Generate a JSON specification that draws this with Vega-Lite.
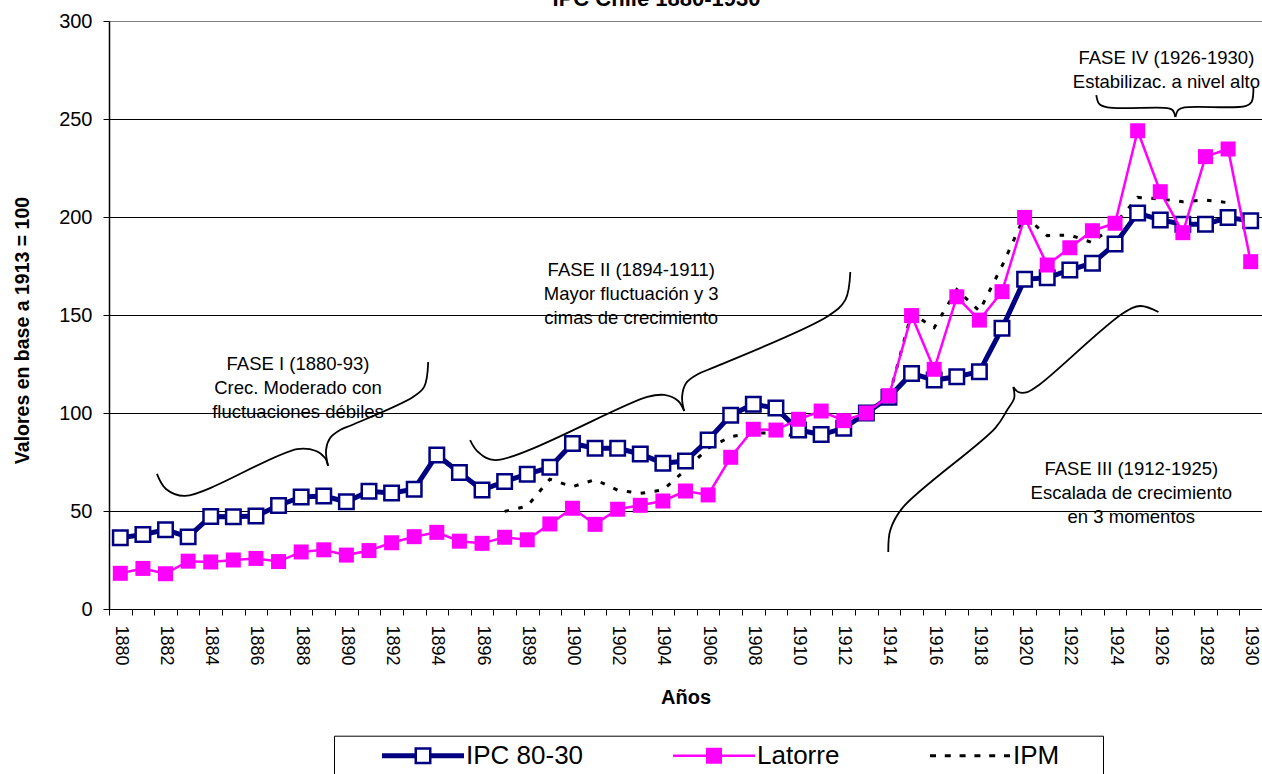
{
  "$schema": "https://vega.github.io/schema/vega-lite/v6.json",
  "autosize": {"type": "none"},
  "padding": {"left": 109, "top": 21, "right": 0, "bottom": 165},
  "width": 1153,
  "height": 588,
  "background": "white",
  "title": {
    "text": "IPC Chile 1880-1930",
    "fontSize": 22,
    "fontWeight": "bold",
    "font": "Liberation Sans",
    "color": "#000000",
    "anchor": "middle",
    "frame": "group",
    "baseline": "alphabetic",
    "offset": 4.5,
    "dx": -29,
    "dy": 21.5
  },
  "config": {"font": "Liberation Sans", "view": {"stroke": null}},
  "datasets": {
    "series": [
      {"anio": 1880, "serie": "IPC 80-30", "valor": 36.3},
      {"anio": 1881, "serie": "IPC 80-30", "valor": 38.0},
      {"anio": 1882, "serie": "IPC 80-30", "valor": 40.4},
      {"anio": 1883, "serie": "IPC 80-30", "valor": 36.8},
      {"anio": 1884, "serie": "IPC 80-30", "valor": 47.2},
      {"anio": 1885, "serie": "IPC 80-30", "valor": 47.1},
      {"anio": 1886, "serie": "IPC 80-30", "valor": 47.4},
      {"anio": 1887, "serie": "IPC 80-30", "valor": 52.8},
      {"anio": 1888, "serie": "IPC 80-30", "valor": 57.2},
      {"anio": 1889, "serie": "IPC 80-30", "valor": 57.6},
      {"anio": 1890, "serie": "IPC 80-30", "valor": 54.7},
      {"anio": 1891, "serie": "IPC 80-30", "valor": 60.1},
      {"anio": 1892, "serie": "IPC 80-30", "valor": 59.2},
      {"anio": 1893, "serie": "IPC 80-30", "valor": 61.1},
      {"anio": 1894, "serie": "IPC 80-30", "valor": 78.6},
      {"anio": 1895, "serie": "IPC 80-30", "valor": 69.6},
      {"anio": 1896, "serie": "IPC 80-30", "valor": 60.7},
      {"anio": 1897, "serie": "IPC 80-30", "valor": 65.0},
      {"anio": 1898, "serie": "IPC 80-30", "valor": 68.8},
      {"anio": 1899, "serie": "IPC 80-30", "valor": 72.3},
      {"anio": 1900, "serie": "IPC 80-30", "valor": 84.4},
      {"anio": 1901, "serie": "IPC 80-30", "valor": 82.0},
      {"anio": 1902, "serie": "IPC 80-30", "valor": 82.0},
      {"anio": 1903, "serie": "IPC 80-30", "valor": 79.1},
      {"anio": 1904, "serie": "IPC 80-30", "valor": 74.4},
      {"anio": 1905, "serie": "IPC 80-30", "valor": 75.5},
      {"anio": 1906, "serie": "IPC 80-30", "valor": 86.2},
      {"anio": 1907, "serie": "IPC 80-30", "valor": 98.8},
      {"anio": 1908, "serie": "IPC 80-30", "valor": 104.5},
      {"anio": 1909, "serie": "IPC 80-30", "valor": 102.5},
      {"anio": 1910, "serie": "IPC 80-30", "valor": 91.3},
      {"anio": 1911, "serie": "IPC 80-30", "valor": 89.0},
      {"anio": 1912, "serie": "IPC 80-30", "valor": 92.2},
      {"anio": 1913, "serie": "IPC 80-30", "valor": 100.0},
      {"anio": 1914, "serie": "IPC 80-30", "valor": 108.0},
      {"anio": 1915, "serie": "IPC 80-30", "valor": 120.2},
      {"anio": 1916, "serie": "IPC 80-30", "valor": 116.8},
      {"anio": 1917, "serie": "IPC 80-30", "valor": 118.5},
      {"anio": 1918, "serie": "IPC 80-30", "valor": 121.1},
      {"anio": 1919, "serie": "IPC 80-30", "valor": 143.2},
      {"anio": 1920, "serie": "IPC 80-30", "valor": 168.2},
      {"anio": 1921, "serie": "IPC 80-30", "valor": 169.0},
      {"anio": 1922, "serie": "IPC 80-30", "valor": 173.0},
      {"anio": 1923, "serie": "IPC 80-30", "valor": 176.4},
      {"anio": 1924, "serie": "IPC 80-30", "valor": 186.2},
      {"anio": 1925, "serie": "IPC 80-30", "valor": 202.0},
      {"anio": 1926, "serie": "IPC 80-30", "valor": 198.5},
      {"anio": 1927, "serie": "IPC 80-30", "valor": 196.3},
      {"anio": 1928, "serie": "IPC 80-30", "valor": 196.3},
      {"anio": 1929, "serie": "IPC 80-30", "valor": 199.7},
      {"anio": 1930, "serie": "IPC 80-30", "valor": 198.1},
      {"anio": 1880, "serie": "Latorre", "valor": 18.2},
      {"anio": 1881, "serie": "Latorre", "valor": 20.7},
      {"anio": 1882, "serie": "Latorre", "valor": 18.0},
      {"anio": 1883, "serie": "Latorre", "valor": 24.4},
      {"anio": 1884, "serie": "Latorre", "valor": 24.0},
      {"anio": 1885, "serie": "Latorre", "valor": 25.0},
      {"anio": 1886, "serie": "Latorre", "valor": 25.8},
      {"anio": 1887, "serie": "Latorre", "valor": 24.2},
      {"anio": 1888, "serie": "Latorre", "valor": 29.1},
      {"anio": 1889, "serie": "Latorre", "valor": 30.2},
      {"anio": 1890, "serie": "Latorre", "valor": 27.5},
      {"anio": 1891, "serie": "Latorre", "valor": 29.8},
      {"anio": 1892, "serie": "Latorre", "valor": 33.8},
      {"anio": 1893, "serie": "Latorre", "valor": 36.9},
      {"anio": 1894, "serie": "Latorre", "valor": 39.1},
      {"anio": 1895, "serie": "Latorre", "valor": 34.6},
      {"anio": 1896, "serie": "Latorre", "valor": 33.5},
      {"anio": 1897, "serie": "Latorre", "valor": 36.6},
      {"anio": 1898, "serie": "Latorre", "valor": 35.3},
      {"anio": 1899, "serie": "Latorre", "valor": 43.4},
      {"anio": 1900, "serie": "Latorre", "valor": 51.4},
      {"anio": 1901, "serie": "Latorre", "valor": 43.2},
      {"anio": 1902, "serie": "Latorre", "valor": 50.9},
      {"anio": 1903, "serie": "Latorre", "valor": 52.9},
      {"anio": 1904, "serie": "Latorre", "valor": 55.1},
      {"anio": 1905, "serie": "Latorre", "valor": 60.2},
      {"anio": 1906, "serie": "Latorre", "valor": 58.2},
      {"anio": 1907, "serie": "Latorre", "valor": 77.4},
      {"anio": 1908, "serie": "Latorre", "valor": 91.7},
      {"anio": 1909, "serie": "Latorre", "valor": 91.3},
      {"anio": 1910, "serie": "Latorre", "valor": 96.8},
      {"anio": 1911, "serie": "Latorre", "valor": 101.0},
      {"anio": 1912, "serie": "Latorre", "valor": 96.1},
      {"anio": 1913, "serie": "Latorre", "valor": 100.0},
      {"anio": 1914, "serie": "Latorre", "valor": 108.8},
      {"anio": 1915, "serie": "Latorre", "valor": 149.7},
      {"anio": 1916, "serie": "Latorre", "valor": 122.3},
      {"anio": 1917, "serie": "Latorre", "valor": 159.3},
      {"anio": 1918, "serie": "Latorre", "valor": 147.4},
      {"anio": 1919, "serie": "Latorre", "valor": 161.9},
      {"anio": 1920, "serie": "Latorre", "valor": 199.8},
      {"anio": 1921, "serie": "Latorre", "valor": 175.5},
      {"anio": 1922, "serie": "Latorre", "valor": 184.3},
      {"anio": 1923, "serie": "Latorre", "valor": 193.0},
      {"anio": 1924, "serie": "Latorre", "valor": 196.8},
      {"anio": 1925, "serie": "Latorre", "valor": 244.0},
      {"anio": 1926, "serie": "Latorre", "valor": 212.9},
      {"anio": 1927, "serie": "Latorre", "valor": 192.0},
      {"anio": 1928, "serie": "Latorre", "valor": 230.8},
      {"anio": 1929, "serie": "Latorre", "valor": 234.7},
      {"anio": 1930, "serie": "Latorre", "valor": 177.2},
      {"anio": 1897, "serie": "IPM", "valor": 49.8},
      {"anio": 1898, "serie": "IPM", "valor": 52.5},
      {"anio": 1899, "serie": "IPM", "valor": 66.2},
      {"anio": 1900, "serie": "IPM", "valor": 62.4},
      {"anio": 1901, "serie": "IPM", "valor": 66.0},
      {"anio": 1902, "serie": "IPM", "valor": 60.6},
      {"anio": 1903, "serie": "IPM", "valor": 59.0},
      {"anio": 1904, "serie": "IPM", "valor": 60.7},
      {"anio": 1905, "serie": "IPM", "valor": 71.0},
      {"anio": 1906, "serie": "IPM", "valor": 82.0},
      {"anio": 1907, "serie": "IPM", "valor": 88.0},
      {"anio": 1908, "serie": "IPM", "valor": 89.6},
      {"anio": 1909, "serie": "IPM", "valor": 90.0},
      {"anio": 1910, "serie": "IPM", "valor": 87.9},
      {"anio": 1911, "serie": "IPM", "valor": 88.5},
      {"anio": 1912, "serie": "IPM", "valor": 93.0},
      {"anio": 1913, "serie": "IPM", "valor": 100.0},
      {"anio": 1914, "serie": "IPM", "valor": 108.3},
      {"anio": 1915, "serie": "IPM", "valor": 151.0},
      {"anio": 1916, "serie": "IPM", "valor": 143.5},
      {"anio": 1917, "serie": "IPM", "valor": 163.0},
      {"anio": 1918, "serie": "IPM", "valor": 152.0},
      {"anio": 1919, "serie": "IPM", "valor": 175.0},
      {"anio": 1920, "serie": "IPM", "valor": 200.5},
      {"anio": 1921, "serie": "IPM", "valor": 190.5},
      {"anio": 1922, "serie": "IPM", "valor": 190.8},
      {"anio": 1923, "serie": "IPM", "valor": 186.9},
      {"anio": 1924, "serie": "IPM", "valor": 196.5},
      {"anio": 1925, "serie": "IPM", "valor": 210.0},
      {"anio": 1926, "serie": "IPM", "valor": 209.2},
      {"anio": 1927, "serie": "IPM", "valor": 207.8},
      {"anio": 1928, "serie": "IPM", "valor": 208.7},
      {"anio": 1929, "serie": "IPM", "valor": 207.3}
    ],
    "llaves": [
      {"llave": "Ia", "i": 1, "anio": 1881.62, "valor": 68.9},
      {"llave": "Ia", "i": 2, "anio": 1882.02, "valor": 61.2},
      {"llave": "Ia", "i": 3, "anio": 1882.86, "valor": 57.7},
      {"llave": "Ia", "i": 4, "anio": 1887.82, "valor": 81.6},
      {"llave": "Ia", "i": 5, "anio": 1888.66, "valor": 80.6},
      {"llave": "Ia", "i": 6, "anio": 1889.06, "valor": 77.0},
      {"llave": "Ia", "i": 7, "anio": 1889.19, "valor": 73.0},
      {"llave": "Ib", "i": 1, "anio": 1889.19, "valor": 73.0},
      {"llave": "Ib", "i": 2, "anio": 1889.10, "valor": 81.1},
      {"llave": "Ib", "i": 3, "anio": 1889.28, "valor": 87.2},
      {"llave": "Ib", "i": 4, "anio": 1889.72, "valor": 91.3},
      {"llave": "Ib", "i": 5, "anio": 1890.25, "valor": 93.9},
      {"llave": "Ib", "i": 6, "anio": 1892.95, "valor": 108.2},
      {"llave": "Ib", "i": 7, "anio": 1893.44, "valor": 113.3},
      {"llave": "Ib", "i": 8, "anio": 1893.62, "valor": 126.0},
      {"llave": "IIa", "i": 1, "anio": 1895.47, "valor": 86.2},
      {"llave": "IIa", "i": 2, "anio": 1895.83, "valor": 80.1},
      {"llave": "IIa", "i": 3, "anio": 1896.58, "valor": 76.0},
      {"llave": "IIa", "i": 4, "anio": 1903.31, "valor": 108.2},
      {"llave": "IIa", "i": 5, "anio": 1904.06, "valor": 109.2},
      {"llave": "IIa", "i": 6, "anio": 1904.68, "valor": 106.1},
      {"llave": "IIa", "i": 7, "anio": 1904.94, "valor": 101.0},
      {"llave": "IIb", "i": 1, "anio": 1904.94, "valor": 101.0},
      {"llave": "IIb", "i": 2, "anio": 1904.85, "valor": 108.2},
      {"llave": "IIb", "i": 3, "anio": 1905.03, "valor": 115.3},
      {"llave": "IIb", "i": 4, "anio": 1905.56, "valor": 119.9},
      {"llave": "IIb", "i": 5, "anio": 1906.31, "valor": 123.5},
      {"llave": "IIb", "i": 6, "anio": 1911.31, "valor": 149.5},
      {"llave": "IIb", "i": 7, "anio": 1912.07, "valor": 157.7},
      {"llave": "IIb", "i": 8, "anio": 1912.29, "valor": 171.9},
      {"llave": "IIIa", "i": 1, "anio": 1913.97, "valor": 29.1},
      {"llave": "IIIa", "i": 2, "anio": 1914.06, "valor": 40.3},
      {"llave": "IIIa", "i": 3, "anio": 1914.59, "valor": 51.5},
      {"llave": "IIIa", "i": 4, "anio": 1918.70, "valor": 92.3},
      {"llave": "IIIa", "i": 5, "anio": 1919.23, "valor": 101.5},
      {"llave": "IIIa", "i": 6, "anio": 1919.54, "valor": 107.7},
      {"llave": "IIIa", "i": 7, "anio": 1919.50, "valor": 113.3},
      {"llave": "IIIb", "i": 1, "anio": 1919.50, "valor": 113.3},
      {"llave": "IIIb", "i": 2, "anio": 1919.72, "valor": 110.7},
      {"llave": "IIIb", "i": 3, "anio": 1920.12, "valor": 110.7},
      {"llave": "IIIb", "i": 4, "anio": 1920.69, "valor": 114.8},
      {"llave": "IIIb", "i": 5, "anio": 1924.37, "valor": 151.0},
      {"llave": "IIIb", "i": 6, "anio": 1925.12, "valor": 154.6},
      {"llave": "IIIb", "i": 7, "anio": 1925.92, "valor": 151.5},
      {"llave": "IVa", "i": 1, "anio": 1923.17, "valor": 262.2},
      {"llave": "IVa", "i": 2, "anio": 1923.30, "valor": 257.7},
      {"llave": "IVa", "i": 3, "anio": 1923.66, "valor": 255.9},
      {"llave": "IVa", "i": 4, "anio": 1926.27, "valor": 255.6},
      {"llave": "IVa", "i": 5, "anio": 1926.54, "valor": 254.6},
      {"llave": "IVa", "i": 6, "anio": 1926.67, "valor": 251.0},
      {"llave": "IVb", "i": 1, "anio": 1926.67, "valor": 251.0},
      {"llave": "IVb", "i": 2, "anio": 1926.80, "valor": 254.6},
      {"llave": "IVb", "i": 3, "anio": 1927.07, "valor": 255.9},
      {"llave": "IVb", "i": 4, "anio": 1929.77, "valor": 256.6},
      {"llave": "IVb", "i": 5, "anio": 1930.04, "valor": 258.7},
      {"llave": "IVb", "i": 6, "anio": 1930.12, "valor": 266.3}
    ],
    "fases": [
      {"anio": 1887.86, "valor": 125.0, "texto": "FASE I (1880-93)\nCrec. Moderado con\nfluctuaciones débiles"},
      {"anio": 1902.6, "valor": 173.0, "texto": "FASE II (1894-1911)\nMayor fluctuación y 3\ncimas de crecimiento"},
      {"anio": 1924.72, "valor": 71.4, "texto": "FASE III (1912-1925)\nEscalada de crecimiento\nen 3 momentos"},
      {"anio": 1926.27, "valor": 281.1, "texto": "FASE IV (1926-1930)\nEstabilizac. a nivel alto"}
    ]
  },
  "resolve": {"scale": {"x": "independent"}, "axis": {"x": "independent", "y": "independent"}},
  "layer": [
    {
      "data": {"name": "series"},
      "encoding": {
        "x": {
          "field": "anio",
          "type": "ordinal",
          "scale": {"type": "band", "paddingInner": 0, "paddingOuter": 0},
          "axis": {
            "title": "Años",
            "titleFontSize": 20,
            "titleFontWeight": "bold",
            "titleColor": "#000000",
            "titleX": 576.5,
            "titleY": 88,
            "titleAlign": "center",
            "titleBaseline": "middle",
            "labelAngle": 90,
            "labelFontSize": 18,
            "labelColor": "#000000",
            "labelPadding": 10,
            "labelOverlap": false,
            "labelExpr": "datum.value % 2 === 0 ? datum.label : ''",
            "tickBand": "extent",
            "tickSize": 6,
            "tickColor": "#000000",
            "domainColor": "#000000",
            "grid": false
          }
        },
        "y": {
          "field": "valor",
          "type": "quantitative",
          "scale": {"domain": [0, 300], "nice": false, "zero": true},
          "axis": {
            "title": "Valores en base a 1913 = 100",
            "titleFontSize": 19.5,
            "titleFontWeight": "bold",
            "titleColor": "#000000",
            "titleX": -86.5,
            "titleY": 309,
            "titleAlign": "center",
            "titleBaseline": "middle",
            "values": [0, 50, 100, 150, 200, 250, 300],
            "labelFontSize": 20,
            "labelColor": "#000000",
            "labelPadding": 11,
            "tickSize": 6,
            "tickColor": "#000000",
            "domainColor": "#000000",
            "domainWidth": 1.5,
            "grid": true,
            "gridWidth": 1,
            "gridColor": {"condition": {"test": "datum.value === 300", "value": "#808080"}, "value": "#000000"}
          }
        }
      },
      "layer": [
        {
          "transform": [{"filter": "datum.serie === 'IPM'"}],
          "mark": {"type": "line", "strokeWidth": 3, "strokeDash": [4.5, 9.5]},
          "encoding": {
            "color": {
              "field": "serie",
              "type": "nominal",
              "scale": {"domain": ["IPC 80-30", "Latorre", "IPM"], "range": ["#000080", "#ff00ff", "#000000"]},
              "legend": {
                "title": null,
                "orient": "none",
                "legendX": 225,
                "legendY": 714.7,
                "direction": "horizontal",
                "padding": 7,
                "strokeColor": "#000000",
                "fillColor": "#ffffff",
                "symbolSize": 324,
                "symbolOffset": 69,
                "labelOffset": 30,
                "columnPadding": 48,
                "labelFontSize": 26,
                "labelColor": "#000000",
                "labelLimit": 300,
                "symbolStrokeWidth": 0,
                "encode": {
                  "symbols": {
                    "update": {
                      "shape": {"signal": "datum.value === 'IPC 80-30' ? 'M-4.556,-0.278H-0.944V0.278H-4.556Z M0.944,-0.278H4.556V0.278H0.944Z M-0.944,-0.944H0.944V0.944H-0.944Z M-0.667,-0.667V0.667H0.667V-0.667Z' : datum.value === 'Latorre' ? 'M-4.556,-0.139H4.556V0.139H-4.556Z M-0.889,-0.889H0.889V0.889H-0.889Z' : 'M-4.444,-0.167h0.667v0.333h-0.667Z M-2.8,-0.167h0.667v0.333h-0.667Z M-1.156,-0.167h0.667v0.333h-0.667Z M0.489,-0.167h0.667v0.333h-0.667Z M2.133,-0.167h0.667v0.333h-0.667Z M3.778,-0.167h0.667v0.333h-0.667Z M14,0L14,0.01Z'"},
                      "fill": {"signal": "datum.value === 'IPC 80-30' ? '#000080' : datum.value === 'Latorre' ? '#ff00ff' : '#000000'"},
                      "stroke": {"value": "transparent"},
                      "strokeWidth": {"value": 0},
                      "opacity": {"value": 1}
                    }
                  }
                }
              }
            }
          }
        },
        {
          "transform": [{"filter": "datum.serie === 'IPC 80-30'"}],
          "mark": {"type": "line", "strokeWidth": 5},
          "encoding": {"color": {"field": "serie", "type": "nominal"}}
        },
        {
          "transform": [{"filter": "datum.serie === 'IPC 80-30'"}],
          "mark": {"type": "point", "shape": "square", "filled": true, "fill": "#ffffff", "stroke": "#000080", "strokeWidth": 2.5, "size": 210, "opacity": 1}
        },
        {
          "transform": [{"filter": "datum.serie === 'Latorre'"}],
          "mark": {"type": "line", "strokeWidth": 2.5},
          "encoding": {"color": {"field": "serie", "type": "nominal"}}
        },
        {
          "transform": [{"filter": "datum.serie === 'Latorre'"}],
          "mark": {"type": "point", "shape": "square", "filled": true, "fill": "#ff00ff", "strokeWidth": 0, "size": 225, "opacity": 1}
        }
      ]
    },
    {
      "encoding": {
        "x": {"field": "anio", "type": "quantitative", "scale": {"domain": [1879.5, 1930.5], "nice": false, "zero": false}, "axis": null},
        "y": {"field": "valor", "type": "quantitative", "axis": null}
      },
      "layer": [
        {
          "data": {"name": "llaves"},
          "mark": {"type": "line", "interpolate": "catmull-rom", "color": "#000000", "strokeWidth": 1.8},
          "encoding": {"detail": {"field": "llave"}, "order": {"field": "i", "type": "quantitative"}}
        },
        {
          "data": {"name": "fases"},
          "mark": {"type": "text", "align": "center", "baseline": "middle", "lineBreak": "\n", "fontSize": 18.5, "lineHeight": 24, "color": "#000000"},
          "encoding": {"text": {"field": "texto"}}
        }
      ]
    }
  ]
}
